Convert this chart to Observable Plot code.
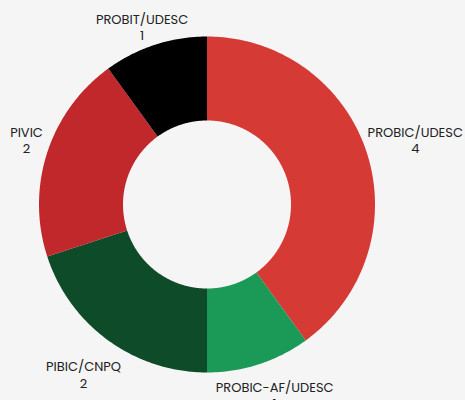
<!DOCTYPE html>
<html><head><meta charset="utf-8">
<script src="https://cdn.jsdelivr.net/npm/d3@7"></script>
<script src="https://cdn.jsdelivr.net/npm/@observablehq/plot@0.6"></script>
<style>
html,body{margin:0;padding:0;background:#f5f5f5;}
#chart svg{display:block;background:#f5f5f5;}
</style></head>
<body><div id="chart"></div>
<script>
const categories = ["PROBIC/UDESC", "PROBIC-AF/UDESC", "PIBIC/CNPQ", "PIVIC", "PROBIT/UDESC"];
const values = [4, 1, 2, 2, 1];
const colors = ["#d63a35", "#1a9a56", "#0e4b29", "#c1282b", "#000000"];

const W = 465, H = 400;
const cx = 206.5, cy = 204, rOuter = 168, rInner = 84;
const total = d3.sum(values);
const pts = [];
const labels = [];
let acc = 0;
categories.forEach((c, i) => {
  const a0 = acc / total * 2 * Math.PI;
  acc += values[i];
  const a1 = acc / total * 2 * Math.PI;
  const n = Math.max(4, Math.ceil((a1 - a0) / 0.01));
  for (let k = 0; k <= n; k++) {
    const a = a0 + (a1 - a0) * k / n;
    pts.push({cat: c, x: cx + rOuter * Math.sin(a), y: cy - rOuter * Math.cos(a)});
  }
  for (let k = n; k >= 0; k--) {
    const a = a0 + (a1 - a0) * k / n;
    pts.push({cat: c, x: cx + rInner * Math.sin(a), y: cy - rInner * Math.cos(a)});
  }
  const am = (a0 + a1) / 2;
  const s = Math.sin(am);
  let lx = cx + (s > 0 ? 219 : 210) * s, ly = cy - 210 * Math.cos(am);
  lx = Math.min(445, Math.max(26, lx));
  ly = Math.min(394, Math.max(26, ly));
  labels.push({x: lx, y: ly, text: c + "\n" + values[i]});
});

const plot = Plot.plot({
  width: W, height: H,
  margin: 0,
  style: {background: "#f5f5f5", fontFamily: "Poppins, 'Open Sans', sans-serif"},
  x: {domain: [0, W], range: [0, W], axis: null},
  y: {domain: [0, H], range: [0, H], axis: null},
  color: {domain: categories, range: colors},
  marks: [
    Plot.line(pts, {x: "x", y: "y", z: "cat", fill: "cat", stroke: null, curve: "linear"}),
    Plot.text(labels, {x: "x", y: "y", text: "text", fontSize: 13, fill: "#222", lineHeight: 1.25})
  ]
});
document.getElementById("chart").appendChild(plot);
</script>
</body></html>
